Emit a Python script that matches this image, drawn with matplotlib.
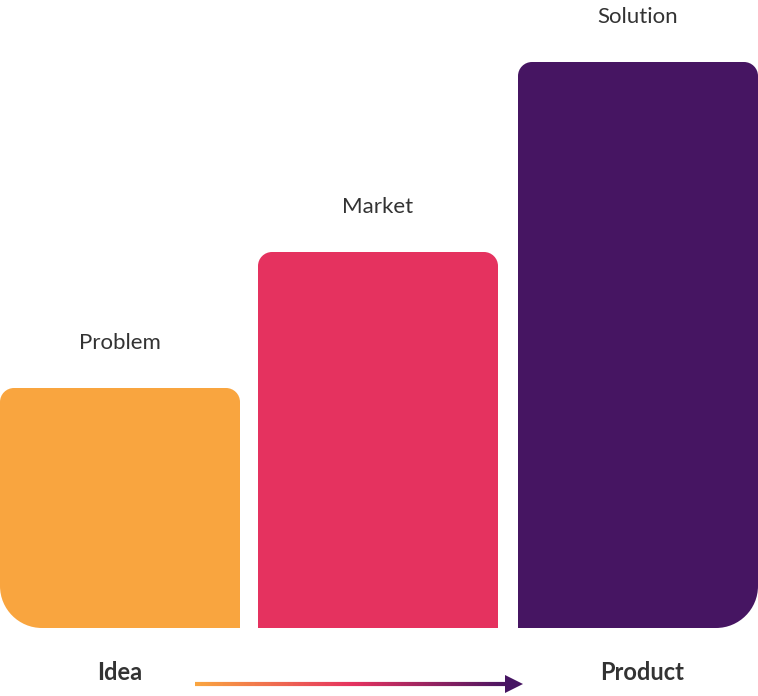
import matplotlib
matplotlib.use("Agg")
import matplotlib.pyplot as plt
import numpy as np
from matplotlib.path import Path
from matplotlib.patches import PathPatch, Polygon
from matplotlib.collections import LineCollection
from matplotlib.colors import LinearSegmentedColormap

categories = ["Problem", "Market", "Solution"]
values = [240, 376, 566]
colors = ["#F9A53F", "#E5325F", "#461562"]
lefts = [0, 258, 518]
width = 240
# radii: (bottom-left, bottom-right, top-right, top-left)
radii = [(42, 0, 14, 14), (0, 0, 14, 14), (0, 42, 14, 14)]

fig = plt.figure(figsize=(7.58, 6.96), dpi=100)
ax = fig.add_axes([0, 0, 1, 1])
ax.set_xlim(0, 758)
ax.set_ylim(-68, 628)
ax.axis("off")

def rounded(x0, y0, w, h, r):
    bl, br, tr, tl = r
    k = 0.5523
    x1, y1 = x0 + w, y0 + h
    v = [(x0 + bl, y0), (x1 - br, y0)]
    c = [Path.MOVETO, Path.LINETO]
    if br:
        v += [(x1 - br + k*br, y0), (x1, y0 + br - k*br), (x1, y0 + br)]; c += [Path.CURVE4]*3
    v.append((x1, y1 - tr)); c.append(Path.LINETO)
    if tr:
        v += [(x1, y1 - tr + k*tr), (x1 - tr + k*tr, y1), (x1 - tr, y1)]; c += [Path.CURVE4]*3
    v.append((x0 + tl, y1)); c.append(Path.LINETO)
    if tl:
        v += [(x0 + tl - k*tl, y1), (x0, y1 - tl + k*tl), (x0, y1 - tl)]; c += [Path.CURVE4]*3
    v.append((x0, y0 + bl)); c.append(Path.LINETO)
    if bl:
        v += [(x0, y0 + bl - k*bl), (x0 + bl - k*bl, y0), (x0 + bl, y0)]; c += [Path.CURVE4]*3
    v.append((x0 + bl, y0)); c.append(Path.CLOSEPOLY)
    return Path(v, c)

for cat, val, col, x0, r in zip(categories, values, colors, lefts, radii):
    ax.add_patch(PathPatch(rounded(x0, 0, width, val, r), facecolor=col, edgecolor="none"))
    ax.text(x0 + width/2, val + 45, cat, ha="center", va="center",
            fontsize=16, color="#333333", family="Lato")

ax.text(120, -45, "Idea", ha="center", va="center", fontsize=17, fontweight="bold",
        color="#333333", family="Lato")
ax.text(642, -45, "Product", ha="center", va="center", fontsize=17, fontweight="bold",
        color="#333333", family="Lato")

cmap = LinearSegmentedColormap.from_list("g", ["#F9A53F", "#E5325F", "#461562"])
xs = np.linspace(195, 510, 200)
segs = [[(xs[i], -56), (xs[i+1], -56)] for i in range(len(xs)-1)]
lc = LineCollection(segs, colors=cmap(np.linspace(0, 1, len(segs))), linewidths=3, capstyle="butt")
ax.add_collection(lc)
ax.add_patch(Polygon([(505, -47), (523, -56), (505, -65)], closed=True, facecolor="#461562", edgecolor="none"))

fig.savefig("out.png", dpi=100, facecolor="white")
